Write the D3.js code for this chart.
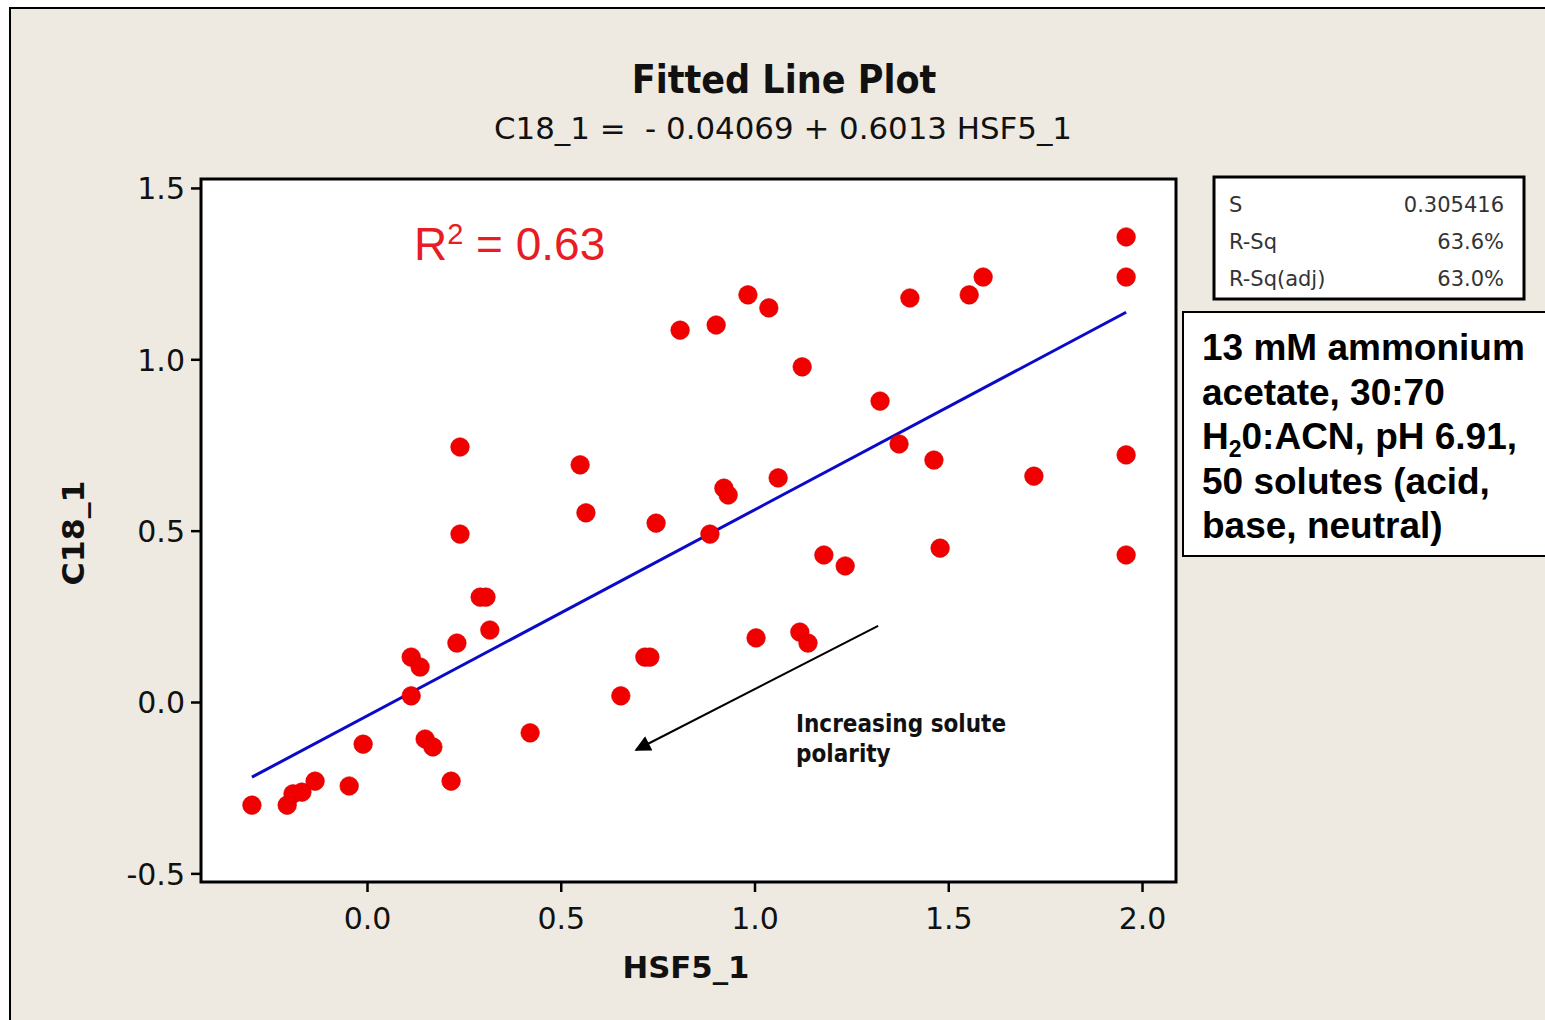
<!DOCTYPE html>
<html>
<head>
<meta charset="utf-8">
<script src="https://cdn.jsdelivr.net/npm/d3@7"></script>
<style>
  html, body { margin: 0; padding: 0; background: #ffffff; }
  svg { display: block; }
</style>
</head>
<body>
<svg id="chart" width="1545" height="1020"></svg>
<script>
// ---------- data ----------
const hsf5 = [-0.297, -0.206, -0.191, -0.168, -0.134, -0.046, -0.010, 0.114, 0.137, 0.114,
  0.150, 0.170, 0.217, 0.232, 0.240, 0.240, 0.292, 0.307, 0.317, 0.421,
  0.550, 0.565, 0.655, 0.717, 0.730, 0.746, 0.808, 0.885, 0.901, 0.921,
  0.932, 0.983, 1.004, 1.037, 1.061, 1.117, 1.123, 1.138, 1.179, 1.234,
  1.324, 1.373, 1.401, 1.463, 1.479, 1.554, 1.590, 1.721, 1.959, 1.959,
  1.959, 1.959];
const c18 = [-0.301, -0.301, -0.268, -0.263, -0.231, -0.245, -0.123, 0.131, 0.102, 0.018,
  -0.108, -0.131, -0.231, 0.172, 0.490, 0.744, 0.306, 0.306, 0.210, -0.090,
  0.692, 0.552, 0.018, 0.131, 0.131, 0.522, 1.085, 0.490, 1.100, 0.624,
  0.604, 1.188, 0.187, 1.150, 0.654, 0.204, 0.978, 0.172, 0.429, 0.397,
  0.878, 0.753, 1.179, 0.706, 0.449, 1.188, 1.240, 0.659, 1.357, 1.240,
  0.721, 0.429];
const intercept = -0.04069;
const slope = 0.6013;
const xTicks = [0.0, 0.5, 1.0, 1.5, 2.0];
const yTicks = [-0.5, 0.0, 0.5, 1.0, 1.5];
const titleText = "Fitted Line Plot";
const equationText = "C18_1 =  - 0.04069 + 0.6013 HSF5_1";
const xLabel = "HSF5_1";
const yLabel = "C18_1";
const statNames = ["S", "R-Sq", "R-Sq(adj)"];
const statValues = ["0.305416", "63.6%", "63.0%"];
const noteLines = ["13 mM ammonium", "acetate, 30:70", "H|2|0:ACN, pH 6.91,", "50 solutes (acid,", "base, neutral)"];
const annotLines = ["Increasing solute", "polarity"];
const arrowFrom = [1.319, 0.222];
const arrowTo = [0.694, -0.140];

// ---------- layout ----------
const svg = d3.select("#chart");
const plot = { left: 201, right: 1176, top: 179, bottom: 882 };

svg.append("rect").attr("x", 0).attr("y", 0).attr("width", 1545).attr("height", 1020).attr("fill", "#ffffff");
svg.append("rect").attr("x", 10).attr("y", 8).attr("width", 1560).attr("height", 1040)
  .attr("fill", "#eeeae1").attr("stroke", "#000").attr("stroke-width", 2);

const x = d3.scaleLinear().domain([-0.4284, 2.0877]).range([plot.left, plot.right]);
const y = d3.scaleLinear().domain([-0.5252, 1.5261]).range([plot.bottom, plot.top]);

svg.append("rect").attr("x", plot.left).attr("y", plot.top)
  .attr("width", plot.right - plot.left).attr("height", plot.bottom - plot.top)
  .attr("fill", "#ffffff");

// axes
const fmt = d => d.toFixed(1).replace("\u2212", "-");
const yAxis = d3.axisLeft(y).tickValues(yTicks).tickSize(10).tickPadding(6).tickFormat(fmt);
const xAxis = d3.axisBottom(x).tickValues(xTicks).tickSize(10).tickPadding(11).tickFormat(fmt);

const gy = svg.append("g").attr("transform", `translate(${plot.left},0)`).call(yAxis);
const gx = svg.append("g").attr("transform", `translate(0,${plot.bottom})`).call(xAxis);
[gx, gy].forEach(g => {
  g.select(".domain").remove();
  g.selectAll(".tick line").attr("stroke", "#000").attr("stroke-width", 2.5);
  g.selectAll(".tick text").attr("fill", "#111").style("font-family", "'DejaVu Sans', sans-serif").style("font-size", "30px");
});
gy.selectAll(".tick text").attr("dy", "0.36em");
gx.selectAll(".tick text").attr("dy", "0.85em");

// fitted line
const xr = d3.extent(hsf5);
const fitPts = xr.map(v => [v, intercept + slope * v]);
svg.append("path")
  .attr("d", d3.line().x(d => x(d[0])).y(d => y(d[1]))(fitPts))
  .attr("stroke", "#0a0ac8").attr("stroke-width", 3).attr("fill", "none");

// points
svg.append("g").selectAll("circle").data(hsf5.map((v, i) => [v, c18[i]])).join("circle")
  .attr("cx", d => x(d[0])).attr("cy", d => y(d[1])).attr("r", 9.3)
  .attr("fill", "#f20000").attr("stroke", "#d00000").attr("stroke-width", 0.6);

// frame
svg.append("rect").attr("x", plot.left).attr("y", plot.top)
  .attr("width", plot.right - plot.left).attr("height", plot.bottom - plot.top)
  .attr("fill", "none").attr("stroke", "#000").attr("stroke-width", 3);

// R^2 annotation
const r2 = svg.append("text").attr("x", x(0.121)).attr("y", y(1.29))
  .attr("fill", "#e81c24").style("font-family", "'Liberation Sans', Arial, sans-serif").style("font-size", "46px");
r2.append("tspan").text("R");
r2.append("tspan").text("2").attr("dy", -16).style("font-size", "29px");
r2.append("tspan").text(" = 0.63").attr("dy", 16);

// arrow
const defs = svg.append("defs");
defs.append("marker").attr("id", "ah").attr("viewBox", "0 0 10 10").attr("refX", 9).attr("refY", 5)
  .attr("markerWidth", 9).attr("markerHeight", 8).attr("orient", "auto").attr("markerUnits", "strokeWidth")
  .append("path").attr("d", "M0,0 L10,5 L0,10 z").attr("fill", "#000");
svg.append("line")
  .attr("x1", x(arrowFrom[0])).attr("y1", y(arrowFrom[1]))
  .attr("x2", x(arrowTo[0])).attr("y2", y(arrowTo[1]))
  .attr("stroke", "#000").attr("stroke-width", 2).attr("marker-end", "url(#ah)");

annotLines.forEach((t, i) => {
  svg.append("text").attr("x", x(1.107)).attr("y", y(-0.088) + i * 30)
    .text(t).attr("fill", "#111")
    .style("font-family", "'DejaVu Sans Condensed', 'DejaVu Sans', sans-serif")
    .style("font-weight", "bold").style("font-size", "24px");
});

// titles
svg.append("text").attr("x", 784).attr("y", 93).attr("text-anchor", "middle").text(titleText)
  .attr("fill", "#111").style("font-family", "'DejaVu Sans Condensed', 'DejaVu Sans', sans-serif")
  .style("font-weight", "bold").style("font-size", "39px");
svg.append("text").attr("x", 783).attr("y", 139).attr("text-anchor", "middle").text(equationText)
  .attr("fill", "#111").attr("textLength", 578).attr("lengthAdjust", "spacingAndGlyphs")
  .style("font-family", "'DejaVu Sans Condensed', 'DejaVu Sans', sans-serif")
  .style("font-size", "31px").style("white-space", "pre");

svg.append("text").attr("x", 686).attr("y", 978).attr("text-anchor", "middle").text(xLabel)
  .attr("fill", "#111").style("font-family", "'DejaVu Sans', sans-serif")
  .style("font-weight", "bold").style("font-size", "30px").attr("textLength", 127).attr("lengthAdjust", "spacingAndGlyphs");
svg.append("text").attr("transform", "translate(84,533) rotate(-90)").attr("text-anchor", "middle").text(yLabel)
  .attr("fill", "#111").style("font-family", "'DejaVu Sans', sans-serif")
  .style("font-weight", "bold").style("font-size", "30px").attr("textLength", 105).attr("lengthAdjust", "spacingAndGlyphs");

// stats box
svg.append("rect").attr("x", 1214).attr("y", 177).attr("width", 310).attr("height", 122)
  .attr("fill", "#ffffff").attr("stroke", "#000").attr("stroke-width", 3);
statNames.forEach((n, i) => {
  svg.append("text").attr("x", 1229).attr("y", 212 + i * 37).text(n)
    .attr("fill", "#333").style("font-family", "'DejaVu Sans', sans-serif").style("font-size", "21px");
  svg.append("text").attr("x", 1504).attr("y", 212 + i * 37).attr("text-anchor", "end").text(statValues[i])
    .attr("fill", "#333").style("font-family", "'DejaVu Sans', sans-serif").style("font-size", "21px");
});

// note box
svg.append("rect").attr("x", 1183).attr("y", 312).attr("width", 400).attr("height", 244)
  .attr("fill", "#ffffff").attr("stroke", "#000").attr("stroke-width", 2);
noteLines.forEach((line, i) => {
  const t = svg.append("text").attr("x", 1202).attr("y", 360 + i * 44.5)
    .attr("fill", "#000").style("font-family", "'Liberation Sans', Arial, sans-serif")
    .style("font-weight", "bold").style("font-size", "37px");
  if (line.includes("|")) {
    const parts = line.split("|");
    t.append("tspan").text(parts[0]);
    t.append("tspan").text(parts[1]).attr("dy", 8).style("font-size", "23px");
    t.append("tspan").text(parts[2]).attr("dy", -8);
  } else {
    t.text(line);
  }
});
</script>
</body>
</html>
